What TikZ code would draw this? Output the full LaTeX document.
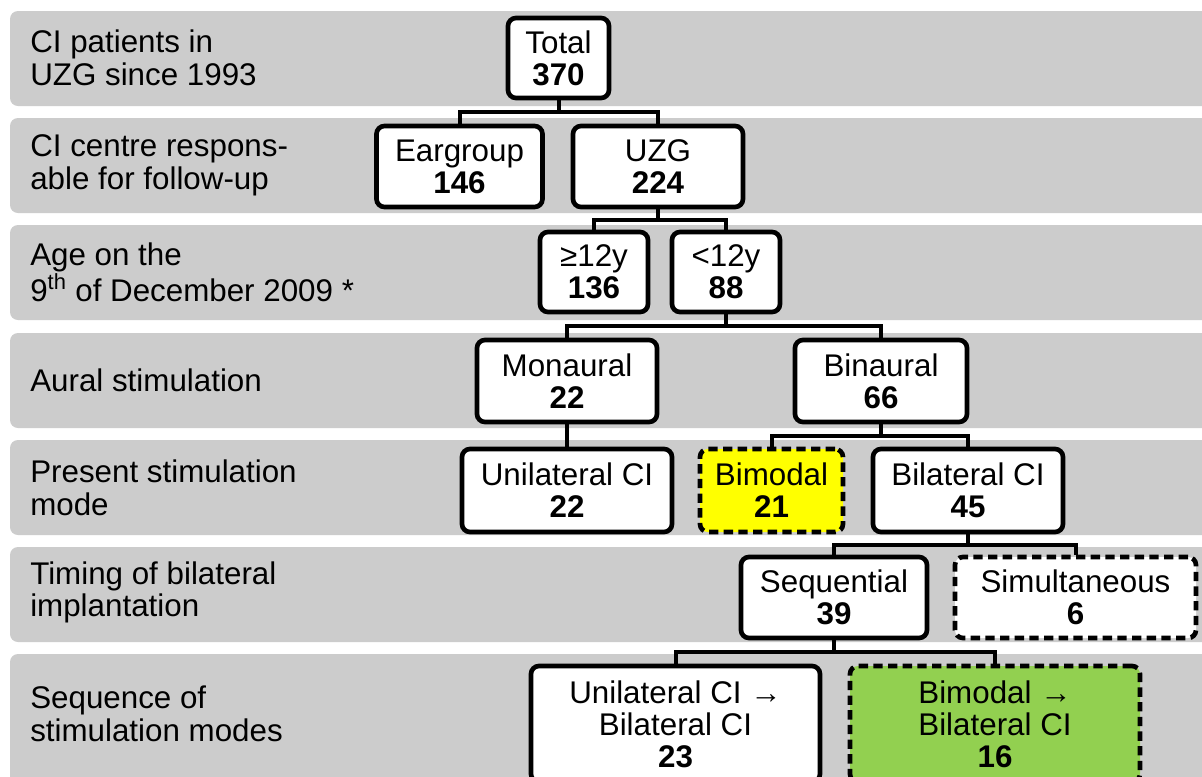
\documentclass[tikz,border=0pt]{standalone}
\usepackage{fontspec}
\setmainfont{Liberation Sans}
\usetikzlibrary{calc}
\newdimen\px \px=0.75pt
\definecolor{bandgray}{RGB}{204,204,204}
\definecolor{bimy}{RGB}{255,255,0}
\definecolor{bimg}{RGB}{146,208,80}
\tikzset{
 box/.style={draw=black, line width=3.5pt, rounded corners=6pt, fill=white, align=center, inner sep=0pt, font=\fontsize{23.5}{24}\selectfont},
 dashbox/.style={box, dash pattern=on 7pt off 4pt},
 conn/.style={line width=3pt},
 bandbg/.style={fill=bandgray, rounded corners=6pt},
 rowlabel/.style={anchor=west, align=left, inner sep=0pt, font=\fontsize{23.5}{24.5}\selectfont}
}
\begin{document}
\begin{tikzpicture}[x=0.75pt,y=-0.75pt]
\useasboundingbox (0,0) rectangle (1202,776);
\clip (0,0) rectangle (1202,776);
\fill[white] (0,0) rectangle (1202,776);
% bands
\fill[bandbg] (10,11) rectangle (1220,106);
\fill[bandbg] (10,118) rectangle (1220,213);
\fill[bandbg] (10,225) rectangle (1220,320);
\fill[bandbg] (10,333) rectangle (1220,428);
\fill[bandbg] (10,440) rectangle (1220,535);
\fill[bandbg] (10,547) rectangle (1220,642);
\fill[bandbg] (10,654) rectangle (1220,800);
% row labels
\node[rowlabel] (l1) at (30,58) {CI patients in\\UZG since 1993};
\node[rowlabel] (l2) at (30,165.5) {CI centre respons-\\able for follow-up};
\node[rowlabel] (l3) at (30,272.5) {Age on the\\9\textsuperscript{th} of December 2009 *};
\node[rowlabel] (l4) at (30,380) {Aural stimulation};
\node[rowlabel] (l5) at (30,488) {Present stimulation\\mode};
\node[rowlabel] (l6) at (30,592.5) {Timing of bilateral\\implantation};
\node[rowlabel] (l7) at (30,714) {Sequence of\\stimulation modes};
% boxes
\node[box, minimum width=101\px, minimum height=80\px] (total) at (558.5,58) {Total\\\textbf{370}};
\node[box, minimum width=166\px, minimum height=81\px] (earg) at (459.5,166.5) {Eargroup\\\textbf{146}};
\node[box, minimum width=170\px, minimum height=81\px] (uzg) at (658,166.5) {UZG\\\textbf{224}};
\node[box, minimum width=108\px, minimum height=80\px] (ge) at (594,272) {≥12y\\\textbf{136}};
\node[box, minimum width=108\px, minimum height=80\px] (lt) at (726,272) {<12y\\\textbf{88}};
\node[box, minimum width=180\px, minimum height=82\px] (mon) at (567,381) {Monaural\\\textbf{22}};
\node[box, minimum width=172\px, minimum height=82\px] (bin) at (881,381) {Binaural\\\textbf{66}};
\node[box, minimum width=210\px, minimum height=83\px] (unil) at (567,490.5) {Unilateral CI\\\textbf{22}};
\node[dashbox, fill=bimy, minimum width=143\px, minimum height=83\px] (bimod) at (771.5,490.5) {Bimodal\\\textbf{21}};
\node[box, minimum width=190\px, minimum height=83\px] (bil) at (968,490.5) {Bilateral CI\\\textbf{45}};
\node[box, minimum width=186\px, minimum height=81\px] (seq) at (834,597.5) {Sequential\\\textbf{39}};
\node[dashbox, minimum width=241\px, minimum height=81\px] (sim) at (1075.5,597.5) {Simultaneous\\\textbf{6}};
\node[box, minimum width=289\px, minimum height=116\px] (ub) at (675.5,724) {Unilateral CI →\\Bilateral CI\\\textbf{23}};
\node[dashbox, fill=bimg, minimum width=290\px, minimum height=116\px] (bb) at (995,724) {Bimodal →\\Bilateral CI\\\textbf{16}};
% connectors
\draw[conn] (total.south) |- ($(total.south)!.5!(earg.north)$) -| (earg.north);
\draw[conn] (total.south) |- ($(total.south)!.5!(uzg.north)$) -| (uzg.north);
\draw[conn] (uzg.south) |- ($(uzg.south)!.5!(ge.north)$) -| (ge.north);
\draw[conn] (uzg.south) |- ($(uzg.south)!.5!(lt.north)$) -| (lt.north);
\draw[conn] (lt.south) |- ($(lt.south)!.5!(mon.north)$) -| (mon.north);
\draw[conn] (lt.south) |- ($(lt.south)!.5!(bin.north)$) -| (bin.north);
\draw[conn] (mon.south) -- (unil.north);
\draw[conn] (bin.south) |- ($(bin.south)!.5!(bimod.north)$) -| (bimod.north);
\draw[conn] (bin.south) |- ($(bin.south)!.5!(bil.north)$) -| (bil.north);
\draw[conn] (bil.south) |- ($(bil.south)!.5!(seq.north)$) -| (seq.north);
\draw[conn] (bil.south) |- ($(bil.south)!.5!(sim.north)$) -| (sim.north);
\draw[conn] (seq.south) |- ($(seq.south)!.5!(ub.north)$) -| (ub.north);
\draw[conn] (seq.south) |- ($(seq.south)!.5!(bb.north)$) -| (bb.north);
\end{tikzpicture}
\end{document}
